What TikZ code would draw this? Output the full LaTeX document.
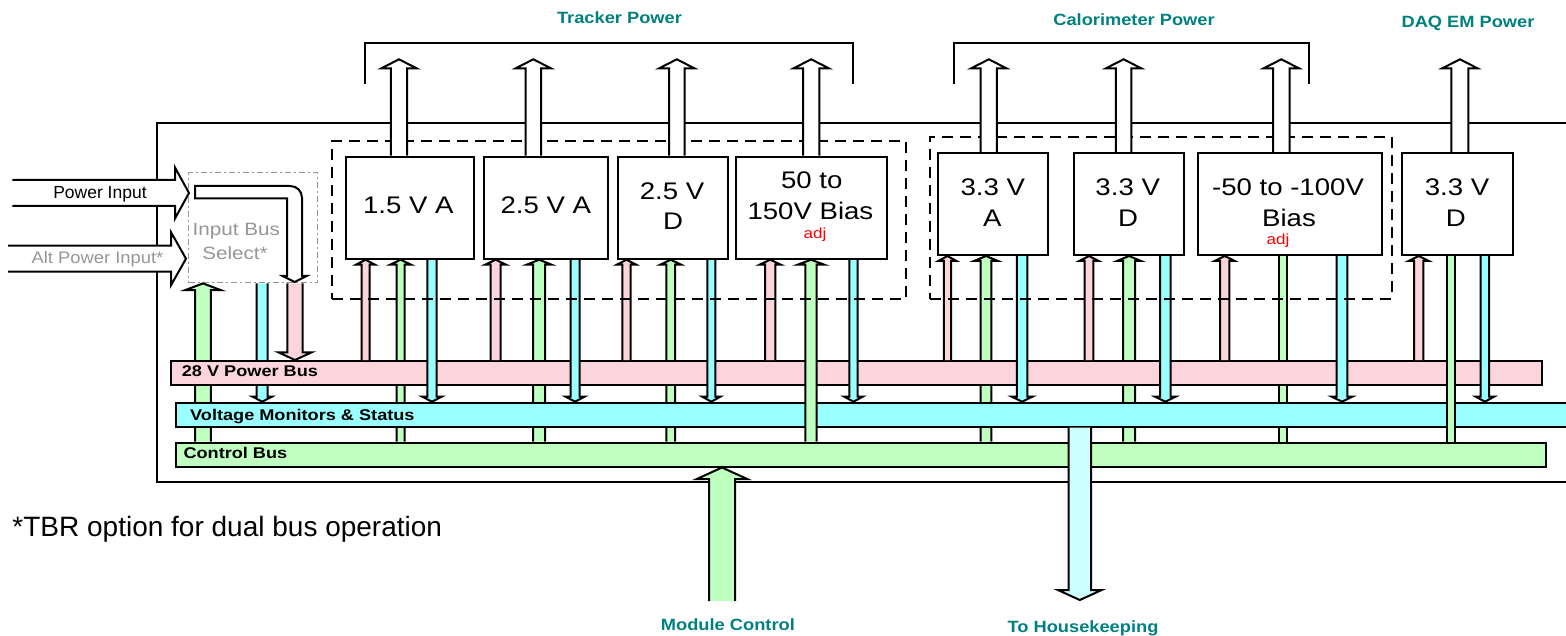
\documentclass[tikz,border=0pt]{standalone}
\usepackage{fontspec}
\setmainfont{Liberation Sans}
\usepackage{graphicx}
\usetikzlibrary{calc}

\definecolor{pinkc}{RGB}{252,213,220}
\definecolor{cyanc}{RGB}{153,255,255}
\definecolor{greenc}{RGB}{191,255,191}
\definecolor{palecyan}{RGB}{204,255,255}
\definecolor{tealc}{RGB}{0,128,128}
\definecolor{greyc}{RGB}{150,150,150}
\definecolor{redc}{RGB}{255,0,0}

\newcommand{\hsx}[2]{\scalebox{#1}[1]{#2}}

% up arrow: opts, half body, half head, head length, from (bottom), to (tip)
\newcommand{\uparrowfat}[6]{%
  \draw[ol,#1] let \p1=(#5), \p2=(#6) in
   (\x2-#2pt,\y1) -- (\x2-#2pt,\y2-#4pt) -- (\x2-#3pt,\y2-#4pt) -- (\x2,\y2)
   -- (\x2+#3pt,\y2-#4pt) -- (\x2+#2pt,\y2-#4pt) -- (\x2+#2pt,\y1);}
% down arrow: opts, half body, half head, head length, from (top), to (tip)
\newcommand{\downarrowfat}[6]{%
  \draw[ol,#1] let \p1=(#5), \p2=(#6) in
   (\x2-#2pt,\y1) -- (\x2-#2pt,\y2+#4pt) -- (\x2-#3pt,\y2+#4pt) -- (\x2,\y2)
   -- (\x2+#3pt,\y2+#4pt) -- (\x2+#2pt,\y2+#4pt) -- (\x2+#2pt,\y1);}
% right arrow: opts, half body, half head, head length, from, to (tip)
\newcommand{\rightarrowfat}[6]{%
  \draw[ol,#1] let \p1=(#5), \p2=(#6) in
   (\x1,\y2+#2pt) -- (\x2-#4pt,\y2+#2pt) -- (\x2-#4pt,\y2+#3pt) -- (\x2,\y2)
   -- (\x2-#4pt,\y2-#3pt) -- (\x2-#4pt,\y2-#2pt) -- (\x1,\y2-#2pt);}
% plain strip: fill colour, half body, from, to
\newcommand{\barfat}[4]{%
  \fill[#1] let \p1=(#3), \p2=(#4) in (\x2-#2pt,\y1) rectangle (\x2+#2pt,\y2);
  \draw[ol] let \p1=(#3), \p2=(#4) in (\x2-#2pt,\y1) -- (\x2-#2pt,\y2) (\x2+#2pt,\y1) -- (\x2+#2pt,\y2);}

\tikzset{
  ol/.style={draw=black, line width=2pt, line join=miter},
  bus/.style={draw=black, line width=2pt, inner sep=0pt, anchor=north west},
  pbox/.style={draw=black, line width=2pt, fill=white, inner sep=0pt, anchor=north west},
  dbox/.style={draw=black, line width=2pt, inner sep=0pt, anchor=north west, dash pattern=on 11pt off 7pt},
  boxtxt/.style={anchor=base, inner sep=0pt, font=\fontsize{24}{28}\selectfont},
  adjtxt/.style={anchor=base, inner sep=0pt, text=redc, font=\fontsize{14.7}{17}\selectfont},
  bustxt/.style={anchor=base west, inner sep=0pt, font=\fontsize{15.5}{18}\selectfont\bfseries},
  teal/.style={anchor=base, inner sep=0pt, text=tealc, font=\fontsize{16.3}{19}\selectfont\bfseries},
}

\begin{document}
\begin{tikzpicture}[x=1pt,y=-1pt]
\useasboundingbox (0,0) rectangle (1566,636);
\clip (0,0) rectangle (1566,636);
\fill[white] (0,0) rectangle (1566,636);

% outer frame and brackets
\draw[ol] (1575,123.5) -- (157,123.5) -- (157,481.7) -- (1575,481.7);
\draw[ol] (364.8,84.3) |- (853,43.3) -- (853,84.3);
\draw[ol] (954.4,84.3) |- (1309,43.3) -- (1309,84.3);

% input bus select
\node[anchor=north west, inner sep=0pt, draw=greyc, line width=1.4pt,
      dash pattern=on 6pt off 3pt on 2pt off 3pt, minimum width=129pt, minimum height=110pt] (ibs) at (188,172) {};

% power supply boxes (positions first, drawn later)
\path (344.9,155.7) node[pbox, draw=none, fill=none, minimum width=128.2pt, minimum height=102pt] (t1) {};
\path (482.6,155.7) node[pbox, draw=none, fill=none, minimum width=124.4pt, minimum height=102pt] (t2) {};
\path (617,155.7)   node[pbox, draw=none, fill=none, minimum width=109.8pt, minimum height=102pt] (t3) {};
\path (735.2,155.7) node[pbox, draw=none, fill=none, minimum width=151.2pt, minimum height=102pt] (t4) {};
\path (937.4,152)   node[pbox, draw=none, fill=none, minimum width=110pt, minimum height=102pt] (c1) {};
\path (1073.3,152)  node[pbox, draw=none, fill=none, minimum width=110pt, minimum height=102pt] (c2) {};
\path (1196.5,152)  node[pbox, draw=none, fill=none, minimum width=184.8pt, minimum height=102pt] (c3) {};
\path (1401.3,152)  node[pbox, draw=none, fill=none, minimum width=110.4pt, minimum height=102pt] (d1) {};

% bus positions
\path (170,360)   node[bus, draw=none, minimum width=1370.6pt, minimum height=23.5pt] (pbus) {};
\path (175,401.7) node[bus, draw=none, minimum width=1400pt, minimum height=23.8pt] (vbus) {};
\path (175,441.7) node[bus, draw=none, minimum width=1370pt, minimum height=23.8pt] (cbus) {};

% green control lines behind the buses
\uparrowfat{fill=greenc}{7.8}{17.8}{6.7}{203,0 |- cbus.north}{203,0 |- ibs.south}
\downarrowfat{fill=cyanc}{5.5}{9.7}{5}{262.2,0 |- ibs.south}{262.2,0 |- vbus.north}
\uparrowfat{fill=greenc}{4}{10.5}{5}{400.6,0 |- cbus.north}{400.6,0 |- t1.south}
\uparrowfat{fill=greenc}{6}{12.5}{5}{539.1,0 |- cbus.north}{539.1,0 |- t2.south}
\uparrowfat{fill=greenc}{4.4}{10.5}{5}{670.7,0 |- cbus.north}{670.7,0 |- t3.south}
\uparrowfat{fill=greenc}{5.3}{12}{5}{986,0 |- cbus.north}{986,0 |- c1.south}
\uparrowfat{fill=greenc}{6}{12}{5}{1129,0 |- cbus.north}{1129,0 |- c2.south}
\barfat{greenc}{3.7}{1283,0 |- c3.south}{1283,0 |- cbus.north}

% buses
\node[bus, fill=pinkc, minimum width=1370.6pt, minimum height=23.5pt] at (170,360) {};
\node[bus, fill=cyanc, minimum width=1400pt, minimum height=23.8pt] at (175,401.7) {};
\node[bus, fill=greenc, minimum width=1370pt, minimum height=23.8pt] at (175,441.7) {};
\node[bustxt] (lp) at (181.7,376.7) {\hsx{1.17}{28 V Power Bus}};
\node[bustxt] (lv) at (190,420) {\hsx{1.17}{Voltage Monitors \& Status}};
\node[bustxt] (lc) at (183.3,458.3) {\hsx{1.17}{Control Bus}};

% pink supply arrows
\uparrowfat{fill=pinkc}{4}{9.5}{5}{365.5,0 |- pbus.north}{365.5,0 |- t1.south}
\uparrowfat{fill=pinkc}{5}{10.5}{5}{495.6,0 |- pbus.north}{495.6,0 |- t2.south}
\uparrowfat{fill=pinkc}{4.2}{9.7}{5}{626.5,0 |- pbus.north}{626.5,0 |- t3.south}
\uparrowfat{fill=pinkc}{5.2}{10.7}{5}{770.2,0 |- pbus.north}{770.2,0 |- t4.south}
\uparrowfat{fill=pinkc}{3.6}{9.1}{5}{947.4,0 |- pbus.north}{947.4,0 |- c1.south}
\uparrowfat{fill=pinkc}{4.3}{9.8}{5}{1089,0 |- pbus.north}{1089,0 |- c2.south}
\uparrowfat{fill=pinkc}{4.6}{10.1}{5}{1224.7,0 |- pbus.north}{1224.7,0 |- c3.south}
\uparrowfat{fill=pinkc}{4.6}{10.1}{5}{1418.7,0 |- pbus.north}{1418.7,0 |- d1.south}

% cyan monitor arrows
\downarrowfat{fill=cyanc}{4.7}{9.7}{5}{432,0 |- t1.south}{432,0 |- vbus.north}
\downarrowfat{fill=cyanc}{4.4}{9.4}{5}{575.1,0 |- t2.south}{575.1,0 |- vbus.north}
\downarrowfat{fill=cyanc}{4}{9}{5}{711.3,0 |- t3.south}{711.3,0 |- vbus.north}
\downarrowfat{fill=cyanc}{4.2}{9.2}{5}{853.5,0 |- t4.south}{853.5,0 |- vbus.north}
\downarrowfat{fill=cyanc}{5.3}{10.3}{5}{1022.1,0 |- c1.south}{1022.1,0 |- vbus.north}
\downarrowfat{fill=cyanc}{5.3}{10.3}{5}{1165.3,0 |- c2.south}{1165.3,0 |- vbus.north}
\downarrowfat{fill=cyanc}{5.3}{10.3}{5}{1342,0 |- c3.south}{1342,0 |- vbus.north}
\downarrowfat{fill=cyanc}{4.2}{9.2}{5}{1484.9,0 |- d1.south}{1484.9,0 |- vbus.north}

% green lines drawn over the buses
\uparrowfat{fill=greenc}{5.7}{13.3}{5}{811,0 |- cbus.north}{811,0 |- t4.south}
\barfat{greenc}{4.1}{1450.8,0 |- d1.south}{1450.8,0 |- cbus.north}

% input bus select to power bus
\downarrowfat{fill=pinkc}{7.7}{16.7}{7.7}{295,0 |- ibs.south}{295,0 |- pbus.north}

% module control and housekeeping
\coordinate (mcs) at (722,601);
\coordinate (hk) at (1079.8,600);
\uparrowfat{fill=greenc}{13}{25.4}{11.6}{mcs}{mcs |- cbus.south}
\downarrowfat{fill=palecyan}{11.2}{21.9}{10}{hk |- vbus.south}{hk}

% dashed groups
\node[dbox, minimum width=574.1pt, minimum height=157.7pt] (tgrp) at (330.7,140) {};
\node[dbox, minimum width=461.7pt, minimum height=162pt] (cgrp) at (928.9,135.7) {};

% boxes
\node[pbox, minimum width=128.2pt, minimum height=102pt] at (344.9,155.7) {};
\node[pbox, minimum width=124.4pt, minimum height=102pt] at (482.6,155.7) {};
\node[pbox, minimum width=109.8pt, minimum height=102pt] at (617,155.7) {};
\node[pbox, minimum width=151.2pt, minimum height=102pt] at (735.2,155.7) {};
\node[pbox, minimum width=110pt, minimum height=102pt] at (937.4,152) {};
\node[pbox, minimum width=110pt, minimum height=102pt] at (1073.3,152) {};
\node[pbox, minimum width=184.8pt, minimum height=102pt] at (1196.5,152) {};
\node[pbox, minimum width=110.4pt, minimum height=102pt] at (1401.3,152) {};

\node[boxtxt] (t1a) at (408.3,213.3) {\hsx{1.15}{1.5 V A}};
\node[boxtxt] (t2a) at (545.8,213.3) {\hsx{1.15}{2.5 V A}};
\node[boxtxt] (t3a) at (672,200) {\hsx{1.15}{2.5 V}};
\node[boxtxt] (t3b) at (673,229.3) {\hsx{1.15}{D}};
\node[boxtxt] (t4a) at (811.8,188.3) {\hsx{1.15}{50 to}};
\node[boxtxt] (t4b) at (810.4,220) {\hsx{1.15}{150V Bias}};
\node[adjtxt] (t4c) at (815,238.5) {\hsx{1.16}{adj}};
\node[boxtxt] (c1a) at (992.8,195.7) {\hsx{1.15}{3.3 V}};
\node[boxtxt] (c1b) at (992.4,226.7) {\hsx{1.15}{A}};
\node[boxtxt] (c2a) at (1127.7,195.7) {\hsx{1.15}{3.3 V}};
\node[boxtxt] (c2b) at (1128,226.7) {\hsx{1.15}{D}};
\node[boxtxt] (c3a) at (1288,195.7) {\hsx{1.15}{-50 to -100V}};
\node[boxtxt] (c3b) at (1289,226.7) {\hsx{1.15}{Bias}};
\node[adjtxt] (c3c) at (1278,245) {\hsx{1.16}{adj}};
\node[boxtxt] (d1a) at (1457,195.7) {\hsx{1.15}{3.3 V}};
\node[boxtxt] (d1b) at (1455.8,226.7) {\hsx{1.15}{D}};

% output arrows
\coordinate (u1) at (399,59.3);
\coordinate (u2) at (533.3,59.3);
\coordinate (u3) at (676.8,59.3);
\coordinate (u4) at (811.2,59.3);
\coordinate (u5) at (988.8,59.3);
\coordinate (u6) at (1123.6,59.3);
\coordinate (u7) at (1281.3,59.3);
\coordinate (u8) at (1459.9,59.3);
\uparrowfat{fill=white}{8.2}{17.6}{9}{u1 |- t1.north}{u1}
\uparrowfat{fill=white}{7.8}{17.6}{9}{u2 |- t2.north}{u2}
\uparrowfat{fill=white}{7.8}{17.6}{9}{u3 |- t3.north}{u3}
\uparrowfat{fill=white}{8.2}{17.6}{9}{u4 |- t4.north}{u4}
\uparrowfat{fill=white}{8.1}{17.6}{9}{u5 |- c1.north}{u5}
\uparrowfat{fill=white}{7.8}{17.6}{9}{u6 |- c2.north}{u6}
\uparrowfat{fill=white}{8.3}{17.6}{9}{u7 |- c3.north}{u7}
\uparrowfat{fill=white}{8.5}{17.6}{9}{u8 |- d1.north}{u8}

% power inputs
\coordinate (pin) at (12.3,193);
\coordinate (apin) at (8,258.7);
\rightarrowfat{fill=white}{13}{25.5}{14}{pin}{[xshift=1pt]ibs.west |- pin}
\rightarrowfat{fill=white}{13}{26.5}{15}{apin}{[xshift=-2pt]ibs.west |- apin}
\draw[ol, fill=white] (195,186) -- (290,186) .. controls (297,186) and (302,191) .. (302,198)
  -- (302,276) -- (306.7,276) -- (294.5,282) -- (282.7,276) -- (287,276) -- (287,198.3) -- (195,198.3) -- cycle;

\node[anchor=base, inner sep=0pt, font=\fontsize{17.5}{20}\selectfont] (lpin) at (100,198.3) {Power Input};
\node[anchor=base, inner sep=0pt, text=greyc, font=\fontsize{16.7}{20}\selectfont] (lapin) at (97.5,263.5) {\hsx{1.1}{Alt Power Input*}};
\node[anchor=base, inner sep=0pt, text=greyc, font=\fontsize{17.8}{21}\selectfont] (libs1) at (236.3,236) {\hsx{1.16}{Input Bus}};
\node[anchor=base, inner sep=0pt, text=greyc, font=\fontsize{17.8}{21}\selectfont] (libs2) at (235,260) {\hsx{1.16}{Select*}};

% titles
\node[teal] (ttr) at (619.5,23.3) {\hsx{1.12}{Tracker Power}};
\node[teal] (tca) at (1134,26) {\hsx{1.12}{Calorimeter Power}};
\node[teal] (tdq) at (1468,28) {\hsx{1.12}{DAQ EM Power}};
\node[teal] (tmc) at (727.9,630) {\hsx{1.12}{Module Control}};
\node[teal] (thk) at (1083,632) {\hsx{1.12}{To Housekeeping}};

\node[anchor=base west, inner sep=0pt, font=\fontsize{28}{32}\selectfont] (note) at (12.3,536) {*TBR option for dual bus operation};
\end{tikzpicture}
\end{document}
